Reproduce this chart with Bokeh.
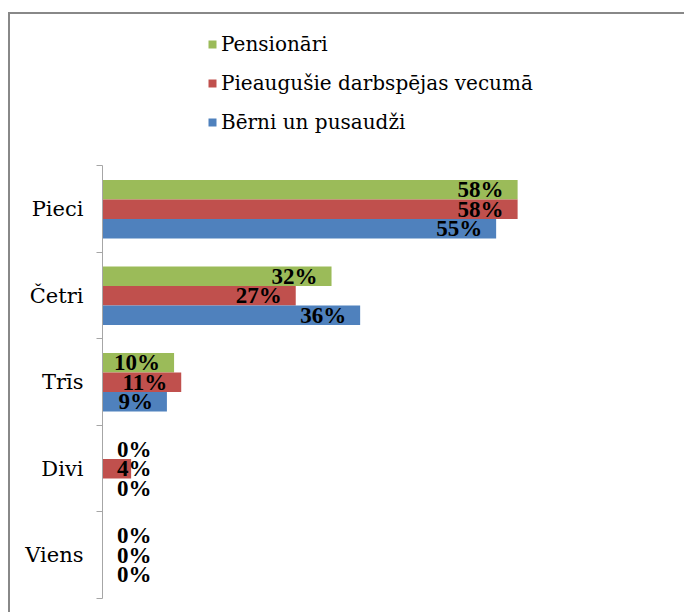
from bokeh.plotting import figure
from bokeh.models import ColumnDataSource, FixedTicker, Range1d, Legend
from bokeh.core.properties import value
from bokeh.embed import file_html
from bokeh.resources import INLINE

# ---- data ----
categories = ["Viens", "Divi", "Trīs", "Četri", "Pieci"]
series_names = ["Pensionāri", "Pieaugušie darbspējas vecumā", "Bērni un pusaudži"]
pensionari = [0, 0, 10, 32, 58]
pieaugusie = [0, 4, 11, 27, 58]
berni = [0, 0, 9, 36, 55]

colors = ["#9BBB59", "#C0504D", "#4F81BD"]
offsets = [0.225, 0.0, -0.225]
BAR_H = 0.225
LABEL_MIN = 8.8  # minimum anchor for labels of short bars (data units)

FONT = "Liberation Serif"
TEXT_FONT = "DejaVu Serif"

p = figure(width=676, height=600, output_backend="svg", toolbar_location=None,
           x_range=Range1d(0, 80.2), y_range=Range1d(0, 6.751),
           x_axis_location=None, min_border_left=92, min_border_right=10,
           min_border_top=0, min_border_bottom=16)
p.outline_line_color = None
p.xgrid.visible = False
p.ygrid.visible = False
p.background_fill_color = "white"
p.border_fill_color = "white"
# outer chart border: only left and top edges are visible in the window
p.styles = {"margin-left": "8px", "margin-top": "12px",
            "border-left": "2px solid #888888", "border-top": "2px solid #888888"}

items = []
for name, vals, col, off in zip(series_names, [pensionari, pieaugusie, berni], colors, offsets):
    ys = [i + 0.5 + off for i in range(len(categories))]
    src = ColumnDataSource(dict(
        y=ys, right=vals,
        lx=[max(v, LABEL_MIN) for v in vals],
        lab=[f"{v}%" for v in vals]))
    r = p.hbar(y="y", left=0, right="right", height=BAR_H, source=src,
               fill_color=col, line_color=None)
    items.append((name, [r]))
    p.text(x="lx", y="y", text="lab", source=src, text_align="right",
           text_baseline="middle", x_offset=-14,
           text_font=value(FONT), text_font_style="bold",
           text_font_size="23px", text_color="black")

legend = Legend(items=items, location=(105, 464))
legend.label_text_font = TEXT_FONT
legend.label_text_font_size = "20px"
legend.label_text_color = "black"
legend.glyph_width = 10
legend.glyph_height = 10
legend.label_standoff = 4
legend.spacing = 15
legend.padding = 0
legend.margin = 0
legend.border_line_color = None
legend.background_fill_alpha = 0
p.add_layout(legend)

ax = p.yaxis[0]
ax.ticker = FixedTicker(ticks=[i + 0.5 for i in range(len(categories))],
                        minor_ticks=list(range(len(categories) + 1)))
ax.major_label_overrides = {i + 0.5: c for i, c in enumerate(categories)}
ax.bounds = (0, len(categories))
ax.axis_line_color = "#A6A6A6"
ax.axis_line_width = 1
ax.major_tick_line_color = None
ax.major_tick_out = 0
ax.major_tick_in = 0
ax.minor_tick_line_color = "#A6A6A6"
ax.minor_tick_out = 6
ax.minor_tick_in = 0
ax.major_label_standoff = 13
ax.major_label_text_font = TEXT_FONT
ax.major_label_text_font_size = "21px"
ax.major_label_text_color = "black"

open("out.html", "w").write(file_html(p, INLINE))
